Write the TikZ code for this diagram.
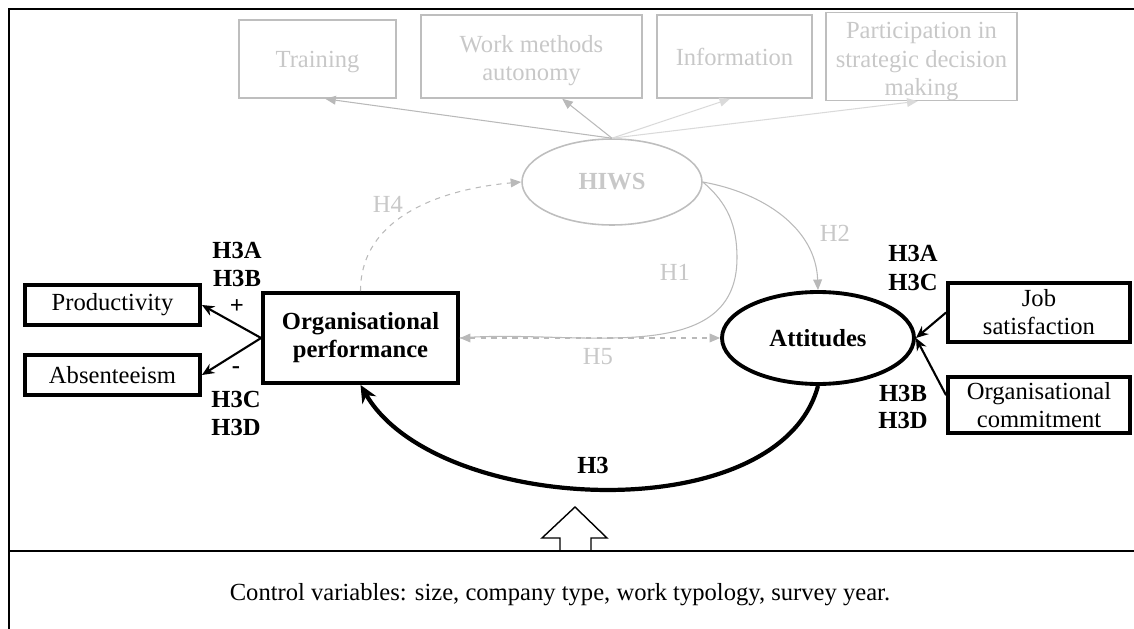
\documentclass[tikz,border=0pt]{standalone}
\usepackage{fontspec}
\setmainfont{Liberation Serif}
\usetikzlibrary{arrows.meta,shapes.geometric}

\begin{document}
\begin{tikzpicture} [
    x=0.02cm, y=-0.02cm,
    every node/.style={font=\fontsize{14}{16}\selectfont, align=center},
    hiwsbox/.style={draw=lightgrey, line width=0.9pt, text=textgrey, inner sep=0pt},
    varbox/.style={draw=black, line width=2.2pt, inner sep=0pt},
    hypolabel/.style={font=\fontsize{14}{16}\selectfont\bfseries},
    greylabel/.style={text=textgrey},
    hiwsarrow/.style={draw=#1, line width=0.6pt, -{Triangle[length=6pt,width=5pt]}},
    hypoarrow/.style={draw=midgrey, line width=0.6pt},
    effectarrow/.style={draw=black, line width=1.2pt, -{Stealth[length=7pt,width=6pt]}}
  ]

\definecolor{lightgrey}{RGB}{190,190,190}
\definecolor{textgrey}{RGB}{200,200,200}
\definecolor{midgrey}{RGB}{185,185,185}
\definecolor{palegrey}{RGB}{218,218,218}

\useasboundingbox (0,0) rectangle (1134,629);

% frame
\draw[line width=1.2pt] (8,9) -- (1134,9);
\draw[line width=1.2pt] (9,9) -- (9,629);
\draw[line width=1.2pt] (9,551) -- (1134,551);

% HIWS practices
\node[hiwsbox, minimum width=3.14cm, minimum height=1.56cm] (training) at (317.5,59) {\rule{0pt}{13pt}Training};
\node[hiwsbox, minimum width=4.42cm, minimum height=1.66cm] (methods) at (531.5,56.5) {\rule{0pt}{14pt}Work methods\\autonomy};
\node[hiwsbox, minimum width=3.1cm, minimum height=1.66cm] (information) at (734.5,56.5) {Information};
\node[hiwsbox, minimum width=3.82cm, minimum height=1.66cm] (participation) at (921.5,56.5) {\rule{0pt}{15pt}Participation in\\strategic decision\\making};

\node[hiwsbox, ellipse, minimum width=3.6cm, minimum height=1.72cm, font=\fontsize{14}{16}\selectfont\bfseries] (hiws) at (612,182) {HIWS};

\draw[hiwsarrow=midgrey] (hiws.north) -- (training.-79);
\draw[hiwsarrow=midgrey] (hiws.north) -- (methods.-54);
\draw[hiwsarrow=palegrey] (hiws.north) -- (information.-96);
\draw[hiwsarrow=palegrey] (hiws.north) -- (participation.-95);

% main variables
\node[varbox, minimum width=3.9cm, minimum height=1.8cm, font=\fontsize{14}{16}\selectfont\bfseries] (orgperf) at (360.5,338) {Organisational\\performance};
\node[varbox, ellipse, minimum width=3.84cm, minimum height=1.84cm, font=\fontsize{14}{16}\selectfont\bfseries] (attitudes) at (818,338) {Attitudes};

\node[varbox, minimum width=3.5cm, minimum height=0.8cm] (productivity) at (112.5,305) {Productivity};
\node[varbox, minimum width=3.5cm, minimum height=0.8cm] (absenteeism) at (112.5,375) {Absenteeism};
\node[varbox, minimum width=3.64cm, minimum height=1.18cm] (jobsat) at (1039,312.5) {Job\\satisfaction};
\node[varbox, minimum width=3.64cm, minimum height=1.12cm] (commitment) at (1039,405) {Organisational\\commitment};

% hypotheses in grey
\draw[hypoarrow, dashed, -{Triangle[length=6pt,width=5pt]}] (orgperf.north) to[out=90, in=185] (hiws.west);
\coordinate (hbend) at (737,258);
\draw[hypoarrow] (hiws.east) to[out=-40, in=90] (hbend) to[out=-90, in=5] (orgperf.east);
\draw[hypoarrow, -{Triangle[length=6pt,width=5pt]}] (hiws.east) to[out=-10, in=92] (attitudes.north);
\draw[hypoarrow, dashed, {Triangle[length=6pt,width=5pt]}-{Triangle[length=6pt,width=5pt]}] (orgperf.east) -- (attitudes.west);

\node[greylabel] (h4) at (388,204) {H4};
\node[greylabel] (h1) at (675,272) {H1};
\node[greylabel] (h2) at (835,233) {H2};
\node[greylabel] (h5) at (598,357) {H5};

% dimensions
\draw[effectarrow] (orgperf.west) -- (productivity.east);
\draw[effectarrow] (orgperf.west) -- (absenteeism.east);
\draw[effectarrow] (jobsat.west) -- (attitudes.east);
\draw[effectarrow] (commitment.174) -- (attitudes.east);

\node[hypolabel] (h3aleft) at (237,250) {H3A};
\node[hypolabel] (h3bleft) at (237,278) {H3B};
\node[hypolabel] (plus) at (237,307) {+};
\node[hypolabel] (minus) at (236,370) {-};
\node[hypolabel] (h3cleft) at (236,399) {H3C};
\node[hypolabel] (h3dleft) at (236,427) {H3D};

\node[hypolabel] (h3aright) at (913,253) {H3A};
\node[hypolabel] (h3cright) at (913,282) {H3C};
\node[hypolabel] (h3bright) at (903,393) {H3B};
\node[hypolabel] (h3dright) at (903,420) {H3D};

% H3 loop
\draw[line width=2.4pt, -{Stealth[length=10pt,width=9pt]}] (attitudes.south) to[out=-105, in=-60, looseness=0.84] (orgperf.south);
\node[hypolabel] (h3) at (593,465) {H3};

% control variables
\draw[line width=0.8pt] (560,551) -- (560,538) -- (542,538) -- (575,507) -- (607,538) -- (591,538) -- (591,551);
\node (control) at (560,595) {Control variables: size, company type, work typology, survey year.};

\end{tikzpicture}
\end{document}
